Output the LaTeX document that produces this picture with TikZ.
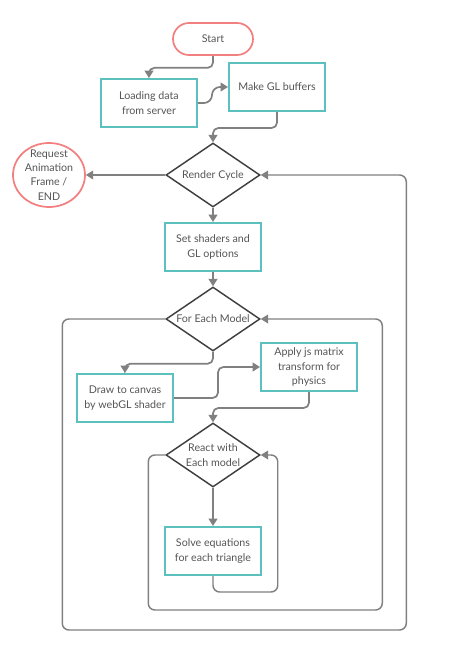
\documentclass[tikz,border=0pt]{standalone}
\usepackage{fontspec}
\setmainfont{Lato}
\usetikzlibrary{shapes.geometric, arrows.meta, calc}
\definecolor{teal}{RGB}{92,192,190}
\definecolor{coral}{RGB}{242,128,128}
\definecolor{wire}{RGB}{128,128,128}
\definecolor{ink}{RGB}{85,85,85}
\definecolor{edge}{RGB}{64,64,64}
\tikzset{
	step box/.style = {rectangle,draw=teal,line width=1.5pt,minimum width=72pt,minimum height=36pt,align=center,text=ink},
	choice/.style = {diamond,draw=edge,line width=1.1pt,minimum width=70.5pt,minimum height=48pt,inner sep=0pt,aspect=1.47,align=center,text=ink},
	terminal/.style = {rectangle,rounded corners=12pt,draw=coral,line width=1.3pt,minimum width=60pt,minimum height=24pt,text=ink},
	finish/.style = {ellipse,draw=coral,line width=1.3pt,minimum width=54pt,minimum height=48pt,inner xsep=0pt,inner ysep=-6pt,align=center,text=ink},
	flow/.style = {draw=wire,line width=1.3pt,rounded corners=4pt,-{Triangle[length=5.5pt,width=6.5pt]}},
	loop/.style = {draw=wire,line width=1.1pt,rounded corners=5pt,-{Triangle[length=5.5pt,width=6.5pt]}}
}

\begin{document}
\begin{tikzpicture}[x=0.75pt, y=-0.75pt, font=\fontsize{8}{10.7}\selectfont]
		\useasboundingbox (0,0) rectangle (453,656);
		\node [terminal](start) at (213,39){Start};
		\node [step box](load) at (149,103){Loading data\\from server};
		\node [step box](buffers) at (277,87){Make GL buffers};
		\node [choice](render) at (213,175){Render Cycle};
		\node [finish](request) at (49,175){Request\\Animation\\Frame /\\END};
		\node [step box](shaders) at (213,247){Set shaders and\\GL options};
		\node [choice](each) at (213,319){For Each Model};
		\node [step box](canvas) at (125,398){Draw to canvas\\by webGL shader};
		\node [step box](physics) at (309,367){Apply js matrix\\transform for\\physics};
		\node [choice](react) at (213,455){React with\\Each model};
		\node [step box](solve) at (213,551){Solve equations\\for each triangle};
		
		\draw[flow](start.south) -- ++(0,12) -| (load.north);
		\draw[flow,rounded corners=6pt](load.east) -- ++(14,0) |- (buffers.west);
		\draw[flow](buffers.south) -- ++(0,16) -| (render.north);
		\draw[flow](render.west) -- (request.east);
		\draw[flow](render.south) -- (shaders.north);
		\draw[flow](shaders.south) -- (each.north);
		\draw[flow](each.south) -- ++(0,12) -| (canvas.north);
		\draw[flow](canvas.east) -- ++(44,0) |- (physics.west);
		\draw[flow](physics.south) -- ++(0,16) -| (react.north);
		\draw[flow](react.south) -- (solve.north);
		\draw[loop](solve.south) -- ++(0,16) -| ($(react.east)+(17,0)$) -- (react.east);
		\draw[loop](react.west) -- ++(-17,0) -- ++(0,155) -- ++(234,0) |- (each.east);
		\draw[loop](each.west) -- ++(-103,0) -- ++(0,311) -- ++(344,0) |- (render.east);
\end{tikzpicture}
\end{document}
